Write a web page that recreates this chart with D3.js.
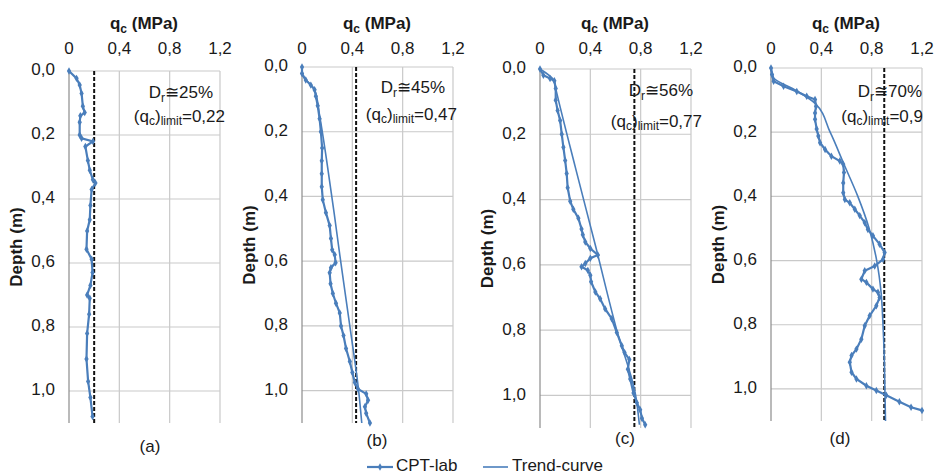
<!DOCTYPE html>
<html>
<head>
<meta charset="utf-8">
<script src="https://cdn.jsdelivr.net/npm/d3@7"></script>
<style>
  body { margin: 0; background: #fff; }
  text { font-family: "Liberation Sans", Arial, sans-serif; fill: #1a1a1a; }
</style>
</head>
<body>
<svg id="chart" width="939" height="476"></svg>
<script>
// x tick labels (MPa) and depth ticks
var qcTicks = [0, 0.4, 0.8, 1.2];
var depthTicks = [0, 0.2, 0.4, 0.6, 0.8, 1.0];

// (a) Dr = 25%
var depthA = [0, 0.023, 0.044, 0.07, 0.11, 0.13, 0.14, 0.16, 0.2, 0.21, 0.22, 0.236, 0.28, 0.31, 0.34, 0.35, 0.37, 0.42, 0.465, 0.5, 0.557, 0.588, 0.63, 0.67, 0.7, 0.71, 0.76, 0.82, 0.9, 0.97, 1.02, 1.08];
var qcA    = [0, 0.06, 0.085, 0.1, 0.11, 0.125, 0.09, 0.085, 0.085, 0.1, 0.19, 0.13, 0.15, 0.165, 0.19, 0.21, 0.18, 0.17, 0.165, 0.144, 0.139, 0.18, 0.187, 0.17, 0.144, 0.165, 0.16, 0.144, 0.139, 0.152, 0.17, 0.187];

// (b) Dr = 45%
var depthB = [0, 0.02, 0.04, 0.056, 0.07, 0.09, 0.12, 0.16, 0.2, 0.25, 0.29, 0.33, 0.37, 0.41, 0.45, 0.49, 0.53, 0.565, 0.58, 0.605, 0.62, 0.636, 0.67, 0.7, 0.73, 0.76, 0.8, 0.83, 0.87, 0.91, 0.944, 0.975, 0.995, 1.01, 1.03, 1.05, 1.07, 1.1];
var qcB    = [0, 0, 0.03, 0.07, 0.1, 0.11, 0.125, 0.14, 0.15, 0.16, 0.157, 0.157, 0.157, 0.165, 0.19, 0.22, 0.23, 0.24, 0.26, 0.267, 0.23, 0.22, 0.227, 0.245, 0.27, 0.3, 0.31, 0.33, 0.35, 0.38, 0.4, 0.42, 0.445, 0.51, 0.525, 0.5, 0.51, 0.54];
var trendDepthB = [0, 0.02, 0.07, 0.15, 0.3, 0.45, 0.58, 0.8, 1.0, 1.1];
var trendQcB    = [0, 0, 0.1, 0.14, 0.2, 0.255, 0.3, 0.38, 0.45, 0.475];

// (c) Dr = 56%
var depthC = [0, 0.019, 0.029, 0.036, 0.06, 0.096, 0.127, 0.158, 0.2, 0.24, 0.28, 0.32, 0.364, 0.405, 0.43, 0.457, 0.49, 0.508, 0.53, 0.55, 0.57, 0.58, 0.596, 0.606, 0.617, 0.632, 0.652, 0.683, 0.704, 0.735, 0.765, 0.807, 0.848, 0.869, 0.89, 0.92, 0.95, 0.993, 1.023, 1.044, 1.07, 1.09];
var qcC    = [0, 0.027, 0.08, 0.114, 0.125, 0.125, 0.14, 0.16, 0.173, 0.186, 0.2, 0.212, 0.22, 0.24, 0.265, 0.305, 0.33, 0.34, 0.36, 0.4, 0.46, 0.4, 0.36, 0.33, 0.38, 0.4, 0.406, 0.44, 0.478, 0.518, 0.57, 0.61, 0.65, 0.672, 0.71, 0.698, 0.717, 0.743, 0.77, 0.796, 0.81, 0.836];
var trendDepthC = [0, 0.035, 0.06, 0.3, 0.54, 0.8, 1.0, 1.09];
var trendQcC    = [0, 0.11, 0.125, 0.28, 0.44, 0.61, 0.76, 0.79];

// (d) Dr = 70%
var depthD = [0, 0.02, 0.041, 0.057, 0.073, 0.088, 0.098, 0.119, 0.14, 0.16, 0.19, 0.212, 0.233, 0.254, 0.275, 0.29, 0.3, 0.326, 0.358, 0.389, 0.41, 0.42, 0.44, 0.46, 0.482, 0.503, 0.523, 0.549, 0.575, 0.596, 0.617, 0.632, 0.658, 0.668, 0.689, 0.699, 0.715, 0.741, 0.772, 0.803, 0.845, 0.876, 0.896, 0.917, 0.948, 0.969, 0.99, 1.005, 1.02, 1.04, 1.057, 1.067];
var qcD    = [0, 0.008, 0.021, 0.1, 0.205, 0.284, 0.35, 0.358, 0.35, 0.35, 0.363, 0.376, 0.39, 0.43, 0.48, 0.547, 0.574, 0.58, 0.574, 0.574, 0.587, 0.626, 0.666, 0.705, 0.745, 0.77, 0.81, 0.863, 0.903, 0.89, 0.824, 0.745, 0.718, 0.758, 0.81, 0.85, 0.863, 0.837, 0.784, 0.745, 0.718, 0.679, 0.64, 0.626, 0.64, 0.679, 0.758, 0.837, 0.916, 1.02, 1.113, 1.2];
var trendDepthD = [0, 0.03, 0.07, 0.11, 0.2, 0.3, 0.4, 0.5, 0.6, 0.7, 0.8, 0.9, 1.0, 1.1];
var trendQcD    = [0, 0.02, 0.2, 0.35, 0.47, 0.58, 0.69, 0.78, 0.84, 0.875, 0.89, 0.9, 0.905, 0.91];

// limit lines and annotations
var limitValues = [0.2, 0.43, 0.75, 0.9];
var drValues = ["25%", "45%", "56%", "70%"];
var qLimitValues = ["0,22", "0,47", "0,77", "0,9"];
var panelNames = ["(a)", "(b)", "(c)", "(d)"];

var blue = "#4a7ebb";
var fs = "17px", fsSub = "12px";
var svg = d3.select("#chart");

var panels = [
  { left: 69, top: 71, bottom: 423, depth: depthA, qc: qcA, tDepth: null, tQc: null,
    drX: 213, drY: 94, qlX: 225, qlY: 118, labX: 150, labY: 448 },
  { left: 302, top: 67, bottom: 423, depth: depthB, qc: qcB, tDepth: trendDepthB, tQc: trendQcB,
    drX: 445, drY: 89, qlX: 457, qlY: 116, labX: 377, labY: 442 },
  { left: 540, top: 69, bottom: 428, depth: depthC, qc: qcC, tDepth: trendDepthC, tQc: trendQcC,
    drX: 693, drY: 92, qlX: 702, qlY: 123, labX: 625, labY: 440 },
  { left: 771, top: 68, bottom: 421, depth: depthD, qc: qcD, tDepth: trendDepthD, tQc: trendQcD,
    drX: 922, drY: 93, qlX: 923, qlY: 118, labX: 840, labY: 440 }
];

panels.forEach(function (p, i) {
  var x = d3.scaleLinear().domain([0, 1.2]).range([p.left, p.left + 151]);
  var y = d3.scaleLinear().domain([0, 1.1]).range([p.top, p.bottom]);
  var g = svg.append("g");

  // grid
  g.selectAll(".vg").data(qcTicks.slice(1)).join("line")
    .attr("x1", d => x(d)).attr("x2", d => x(d))
    .attr("y1", p.top).attr("y2", p.bottom)
    .attr("stroke", "#c9c9c9").attr("stroke-width", 1.2);
  g.selectAll(".hg").data(depthTicks).join("line")
    .attr("x1", p.left).attr("x2", x(1.2))
    .attr("y1", d => y(d)).attr("y2", d => y(d))
    .attr("stroke", "#c9c9c9").attr("stroke-width", 1.2);
  g.append("line")
    .attr("x1", p.left).attr("x2", p.left)
    .attr("y1", p.top).attr("y2", p.bottom)
    .attr("stroke", "#8c8c8c").attr("stroke-width", 1.2);

  // tick labels
  g.selectAll(".xt").data(qcTicks).join("text")
    .attr("x", d => x(d)).attr("y", 50)
    .attr("text-anchor", "middle").attr("dominant-baseline", "middle")
    .style("font-size", fs)
    .text(d => d === 0 ? "0" : d3.format(".1f")(d).replace(".", ","));
  g.selectAll(".yt").data(depthTicks).join("text")
    .attr("x", p.left - 14).attr("y", d => y(d))
    .attr("text-anchor", "end").attr("dominant-baseline", "middle")
    .style("font-size", fs)
    .text(d => d3.format(".1f")(d).replace(".", ","));

  // axis titles
  var t = g.append("text")
    .attr("x", p.left + 75).attr("y", 29)
    .attr("text-anchor", "middle")
    .style("font-size", fs).style("font-weight", "bold");
  t.append("tspan").text("q");
  t.append("tspan").attr("dy", 4).style("font-size", fsSub).text("c");
  t.append("tspan").attr("dy", -4).text(" (MPa)");

  g.append("text")
    .attr("transform", "translate(" + (p.left - 51) + "," + ((p.top + p.bottom) / 2) + ") rotate(-90)")
    .attr("text-anchor", "middle").attr("dominant-baseline", "middle")
    .style("font-size", fs).style("font-weight", "bold")
    .text("Depth (m)");

  // limit line
  g.append("line")
    .attr("x1", x(limitValues[i])).attr("x2", x(limitValues[i]))
    .attr("y1", p.top).attr("y2", p.bottom)
    .attr("stroke", "#111").attr("stroke-width", 2).attr("stroke-dasharray", "4,2");

  var line = d3.line().x(d => x(d[0])).y(d => y(d[1]));

  // trend curve
  if (p.tDepth) {
    g.append("path")
      .datum(p.tQc.map((q, k) => [q, p.tDepth[k]]))
      .attr("d", line.curve(d3.curveMonotoneY))
      .attr("fill", "none").attr("stroke", blue).attr("stroke-width", 1.6);
  }

  // CPT data
  var pts = p.qc.map((q, k) => [q, p.depth[k]]);
  g.append("path")
    .datum(pts)
    .attr("d", d3.line().x(d => x(d[0])).y(d => y(d[1])))
    .attr("fill", "none").attr("stroke", blue).attr("stroke-width", 2.2);
  g.selectAll(".mk").data(pts).join("path")
    .attr("transform", d => "translate(" + x(d[0]) + "," + y(d[1]) + ")")
    .attr("d", d3.symbol(d3.symbolDiamond, 16))
    .attr("fill", blue);

  // annotations
  var a1 = g.append("text").attr("x", p.drX).attr("y", p.drY)
    .attr("text-anchor", "end").attr("dominant-baseline", "middle")
    .style("font-size", fs);
  a1.append("tspan").text("D");
  a1.append("tspan").attr("dy", 5).style("font-size", fsSub).text("r");
  a1.append("tspan").attr("dy", -5).text("\u2245" + drValues[i]);

  var a2 = g.append("text").attr("x", p.qlX).attr("y", p.qlY)
    .attr("text-anchor", "end").attr("dominant-baseline", "middle")
    .style("font-size", fs);
  a2.append("tspan").text("(q");
  a2.append("tspan").attr("dy", 4).style("font-size", fsSub).text("c");
  a2.append("tspan").attr("dy", -4).text(")");
  a2.append("tspan").attr("dy", 4).style("font-size", fsSub).text("limit");
  a2.append("tspan").attr("dy", -4).text("=" + qLimitValues[i]);

  g.append("text").attr("x", p.labX).attr("y", p.labY)
    .attr("text-anchor", "middle").attr("dominant-baseline", "middle")
    .style("font-size", fs)
    .text(panelNames[i]);
});

// legend
var lg = svg.append("g");
lg.append("line").attr("x1", 367).attr("x2", 393).attr("y1", 467).attr("y2", 467)
  .attr("stroke", blue).attr("stroke-width", 2.2);
lg.append("path").attr("transform", "translate(380,467)")
  .attr("d", d3.symbol(d3.symbolDiamond, 16)).attr("fill", blue);
lg.append("text").attr("x", 396).attr("y", 467).attr("dominant-baseline", "middle")
  .style("font-size", fs).text("CPT-lab");
lg.append("line").attr("x1", 483).attr("x2", 508).attr("y1", 467).attr("y2", 467)
  .attr("stroke", blue).attr("stroke-width", 1.6);
lg.append("text").attr("x", 512).attr("y", 467).attr("dominant-baseline", "middle")
  .style("font-size", fs).text("Trend-curve");
</script>
</body>
</html>
